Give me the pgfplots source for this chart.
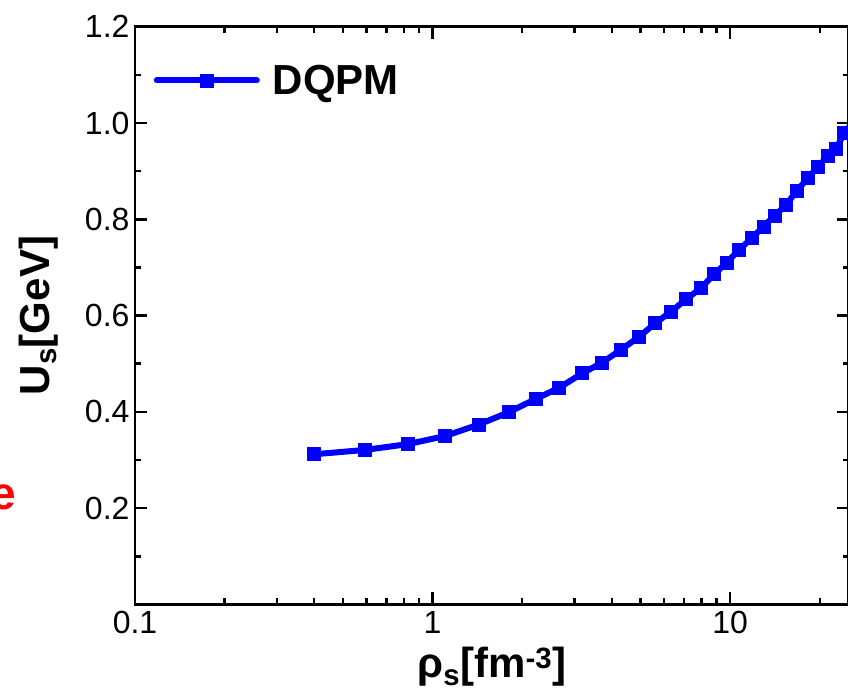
\documentclass[border=0pt]{standalone}
\usepackage{fontspec}
\setmainfont{Liberation Sans}
\usepackage{pgfplots}
\pgfplotsset{compat=1.18}
\definecolor{dqpm}{RGB}{0,0,255}
\begin{document}
\begin{tikzpicture}[x=1pt,y=1pt]
\useasboundingbox (0,0) rectangle (848,700);
\begin{axis}[
  at={(135pt,95.5pt)}, anchor=south west,
  scale only axis, width=713.6pt, height=577.8pt,
  xmode=log, xmin=0.1, xmax=25, ymin=0, ymax=1.2,
  xtick={0.1,1,10}, xticklabels={0.1,1,10},
  minor xtick={0.2,0.3,0.4,0.5,0.6,0.7,0.8,0.9,2,3,4,5,6,7,8,9,20},
  ytick={0.2,0.4,0.6,0.8,1.0,1.2},
  minor ytick={0.1,0.3,0.5,0.7,0.9,1.1},
  yticklabel style={/pgf/number format/fixed, /pgf/number format/fixed zerofill,
    /pgf/number format/precision=1, /pgf/number format/assume math mode=true, xshift=-2pt},
  tick label style={font=\fontsize{32}{36}\selectfont},
  xticklabel style={yshift=-3pt},
  axis line style={line width=2.5pt},
  major tick length=12pt, minor tick length=6pt,
  tick style={line width=2.5pt, black},
  xlabel={ρ\textsubscript{s}[fm\textsuperscript{-3}]},
  ylabel={U\textsubscript{s}[GeV]},
  label style={font=\fontsize{42}{48}\selectfont\bfseries},
  xlabel style={at={(axis description cs:0.5,-0.1272)}, anchor=base},
  ylabel style={at={(axis description cs:-0.1205,0.5)}, anchor=base},
  legend style={draw=none, fill=none, at={(axis description cs:0.026,0.907)}, anchor=west,
    font=\fontsize{42}{48}\selectfont\bfseries, inner sep=0pt,
    nodes={inner sep=0pt}, /tikz/every odd column/.style={column sep=13pt}},
  legend cell align=left,
  legend image code/.code={\draw[#1,mark repeat=2,mark phase=2] plot coordinates {(0pt,0pt) (50pt,0pt) (100pt,0pt)};},
]
\addplot[color=dqpm, line width=6pt, line cap=round, line join=round,
  mark=square*, mark size=6.5pt, mark options={line width=0.8pt, solid, fill=dqpm, draw=dqpm}]
coordinates {
(0.4006,0.312) (0.592,0.321) (0.825,0.333) (1.104,0.350) (1.433,0.374)
(1.798,0.399) (2.223,0.427) (2.662,0.450) (3.181,0.480) (3.705,0.502)
(4.291,0.529) (4.918,0.555) (5.597,0.584) (6.318,0.608) (7.114,0.634)
(7.971,0.657) (8.838,0.686) (9.732,0.710) (10.68,0.736) (11.83,0.761)
(12.94,0.785) (14.09,0.807) (15.39,0.830) (16.76,0.859) (18.19,0.885)
(19.65,0.908) (21.24,0.931) (22.72,0.947) (24.16,0.979) (25.9,1.002)
};
\addlegendentry{DQPM}
\end{axis}
\node[anchor=base east, text=red, font=\fontsize{46}{50}\selectfont\bfseries, inner sep=0pt] at (16.5,190) {e};
\end{tikzpicture}
\end{document}
